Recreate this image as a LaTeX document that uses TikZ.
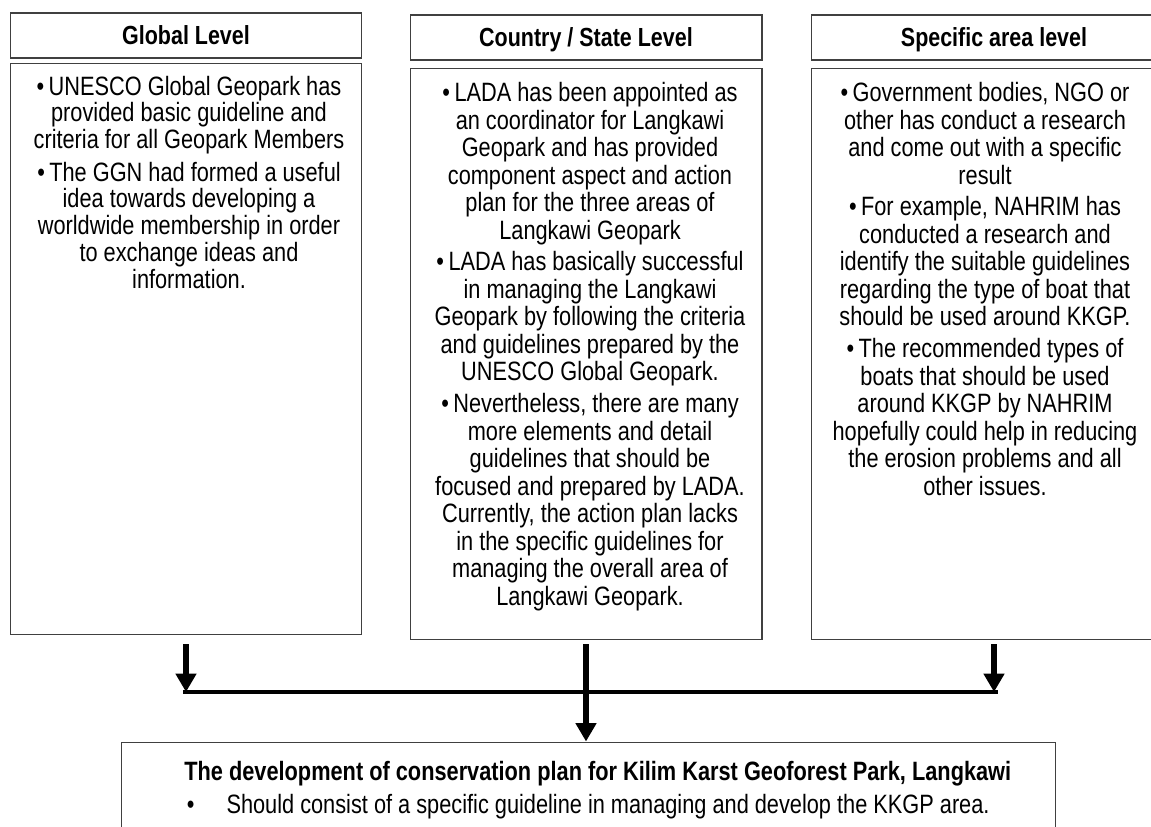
\documentclass[tikz,border=0pt]{standalone}
\usepackage{fontspec}
\setmainfont{Liberation Sans}[FakeStretch=0.82]
\usetikzlibrary{arrows.meta}
\tikzstyle{box}=[rectangle, draw=black!75, line width=0.6pt, inner sep=0pt, anchor=center]
\tikzstyle{head}=[box, minimum height=0.9cm, font=\fontsize{14.9}{16}\selectfont\bfseries, text height=10.7pt, text depth=0pt]
\tikzstyle{body}=[box, minimum height=11.44cm]
\tikzstyle{annot}=[align=center, inner sep=0pt, anchor=north, font=\fontsize{15.1}{15.65}\selectfont]
\tikzstyle{arr}=[line width=3.5pt, -{Triangle[width=11.4pt,length=10.5pt]}]
\newcommand{\pgap}{\\[2.5pt]}
\newcommand{\bul}{\textbullet\,}
\begin{document}
\begin{tikzpicture}[x=0.02cm, y=-0.02cm]
	\useasboundingbox (0,0) rectangle (1151,826);
	\clip (0,0) rectangle (1151,826);

	% the three levels
	\node[head, minimum width=7.04cm](glob) at (186,35.5){Global Level};
	\node[head, minimum width=7.04cm](ctry) at (586,37.5){Country / State Level};
	\node[head, minimum width=7.32cm](spec) at (994,37.5){Specific area level};

	\node[body, minimum width=7.04cm](globbody) at (186,349){};
	\node[body, minimum width=7.04cm](ctrybody) at (586,354){};
	\node[body, minimum width=7.32cm](specbody) at (994,354){};

	\node[annot, font=\fontsize{15.1}{15.2}\selectfont](globtxt) at (189,75.5){\bul UNESCO Global Geopark has\\ provided basic guideline and\\ criteria for all Geopark Members\\[3.4pt]
		\bul The GGN had formed a useful\\ idea towards developing a\\ worldwide membership in order\\ to exchange ideas and\\ information.};
	\node[annot](ctrytxt) at (590,82){\bul LADA has been appointed as\\ an coordinator for Langkawi\\ Geopark and has provided\\ component aspect and action\\ plan for the three areas of\\ Langkawi Geopark\pgap
		\bul LADA has basically successful\\ in managing the Langkawi\\ Geopark by following the criteria\\ and guidelines prepared by the\\ UNESCO Global Geopark.\pgap
		\bul Nevertheless, there are many\\ more elements and detail\\ guidelines that should be\\ focused and prepared by LADA.\\ Currently, the action plan lacks\\ in the specific guidelines for\\ managing the overall area of\\ Langkawi Geopark.};
	\node[annot](spectxt) at (985,82){\bul Government bodies, NGO or\\ other has conduct a research\\ and come out with a specific\\ result\pgap
		\bul For example, NAHRIM has\\ conducted a research and\\ identify the suitable guidelines\\ regarding the type of boat that\\ should be used around KKGP.\pgap
		\bul The recommended types of\\ boats that should be used\\ around KKGP by NAHRIM\\ hopefully could help in reducing\\ the erosion problems and all\\ other issues.};

	% conservation plan
	\node[box, minimum width=18.7cm, minimum height=3.16cm](plan) at (588.5,821){};
	\node[annot, anchor=north west, align=left, font=\fontsize{15.1}{18.6}\selectfont](plantxt) at (184,761){\textbf{The development of conservation plan for Kilim Karst Geoforest Park, Langkawi}\\
		\hspace{1.5pt}\makebox[22.5pt][l]{\textbullet}Should consist of a specific guideline in managing and develop the KKGP area.};

	% arrows
	\coordinate (jl) at (183,692);
	\coordinate (jr) at (998,692);
	\draw[line width=2.7pt] (jl) -- (jr);
	\draw[arr] ([yshift=-0.18cm]globbody.south) -- (globbody.south |- jl);
	\draw[arr] ([yshift=-0.08cm]specbody.south) -- (specbody.south |- jr);
	\draw[arr] ([yshift=-0.08cm]ctrybody.south) -- (ctrybody.south |- plan.north);

\end{tikzpicture}
\end{document}
